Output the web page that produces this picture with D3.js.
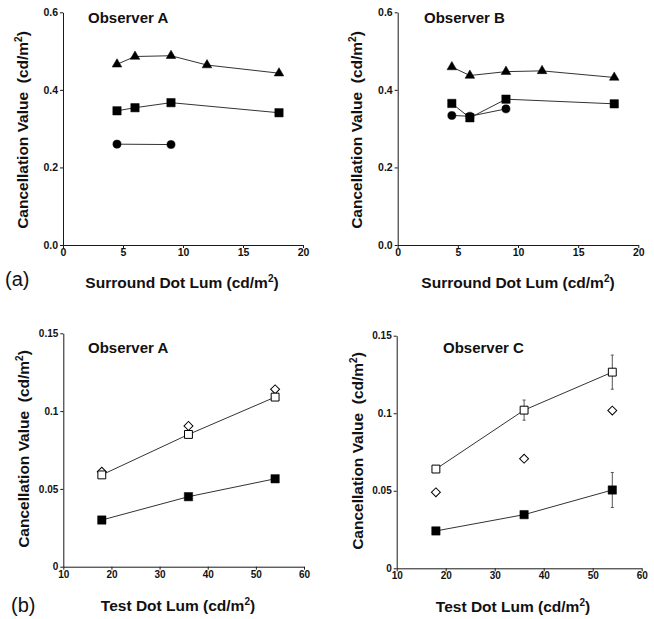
<!DOCTYPE html>
<html><head><meta charset="utf-8">
<script src="https://cdn.jsdelivr.net/npm/d3@7"></script>
<style>body{margin:0;background:#fff}svg{display:block}text{font-family:"Liberation Sans",Arial,sans-serif}</style>
</head><body>
<script>
// ---- data ----
const surroundLum = [4.5, 6, 9, 12, 18];
const surroundLumSq = [4.5, 6, 9, 18];
const A_triangles = [0.466, 0.486, 0.488, 0.464, 0.443];
const A_squares = [0.346, 0.354, 0.367, 0.341];
const A_circleX = [4.5, 9];
const A_circles = [0.260, 0.259];
const B_triangles = [0.459, 0.437, 0.447, 0.449, 0.432];
const B_squares = [0.365, 0.328, 0.376, 0.364];
const B_circleX = [4.5, 6, 9];
const B_circles = [0.334, 0.332, 0.351];

const testLum = [18, 36, 54];
const A2_open = [0.059, 0.085, 0.109];
const A2_diamond = [0.061, 0.0905, 0.114];
const A2_filled = [0.030, 0.045, 0.0565];
const C_open = [0.064, 0.102, 0.1265];
const C_openErr = [0, 0.0065, 0.011];
const C_diamond = [0.049, 0.0707, 0.1017];
const C_filled = [0.0241, 0.0346, 0.0505];
const C_filledErr = [0, 0, 0.0113];

const topXTicks = [0, 5, 10, 15, 20];
const topYTicks = [0, 0.2, 0.4, 0.6];
const botXTicks = [10, 20, 30, 40, 50, 60];
const botYTicks = [0, 0.05, 0.1, 0.15];

const W = 654, H = 619;
const svg = d3.select("body").append("svg").attr("width", W).attr("height", H);
svg.append("rect").attr("width", W).attr("height", H).attr("fill", "#fff");

const zip = (xs, ys, es) => xs.map((x, i) => ({x, y: ys[i], e: es ? es[i] : 0}));

function panel(cfg) {
  const g = svg.append("g");
  const x = d3.scaleLinear().domain(cfg.xDomain).range(cfg.xRange);
  const y = d3.scaleLinear().domain(cfg.yDomain).range(cfg.yRange);
  const xa = d3.axisBottom(x).tickValues(cfg.xTicks).tickSize(3).tickSizeOuter(0).tickPadding(1);
  const ya = d3.axisLeft(y).tickValues(cfg.yTicks).tickSize(3).tickSizeOuter(0).tickPadding(2).tickFormat(cfg.yFmt);
  const gx = g.append("g").attr("transform", `translate(0,${cfg.yRange[0]})`).call(xa);
  const gy = g.append("g").attr("transform", `translate(${cfg.xRange[0]},0)`).call(ya);
  [gx, gy].forEach(a => {
    a.attr("font-size", cfg.tickFont);
    a.selectAll("path,line").attr("stroke", "#1a1a1a").attr("stroke-width", 1);
    a.selectAll("text").attr("font-size", cfg.tickFont).attr("font-weight", "bold").attr("fill", "#111")
      .style("font-family", '"Liberation Sans", Arial, sans-serif');
  });
  const line = d3.line().x(d => x(d.x)).y(d => y(d.y));
  cfg.series.filter(s => s.line).forEach(s => {
    g.append("path").datum(s.data).attr("d", line).attr("fill", "none")
      .attr("stroke", "#333").attr("stroke-width", 1);
  });
  cfg.series.forEach(s => {
    s.data.filter(d => d.e > 0).forEach(d => {
      const eb = g.append("g").attr("stroke", "#555").attr("stroke-width", 1);
      eb.append("line").attr("x1", x(d.x)).attr("x2", x(d.x)).attr("y1", y(d.y - d.e)).attr("y2", y(d.y + d.e));
      [d.y - d.e, d.y + d.e].forEach(v => eb.append("line").attr("x1", x(d.x) - 1.5).attr("x2", x(d.x) + 1.5).attr("y1", y(v)).attr("y2", y(v)));
    });
  });
  cfg.series.forEach(s => {
    const sym = d3.symbol().type(s.type).size(s.size);
    g.selectAll(null).data(s.data).join("path")
      .attr("d", sym)
      .attr("transform", d => `translate(${x(d.x)},${y(d.y)})${s.rot ? " rotate(45)" : ""}`)
      .attr("fill", s.open ? "#fff" : "#000")
      .attr("stroke", "#000").attr("stroke-width", s.open ? 1 : 0.5);
  });
  g.append("text").attr("x", cfg.obs[1]).attr("y", cfg.obs[2]).attr("font-size", 15).attr("font-weight", "bold")
    .attr("fill", "#111").text(cfg.obs[0]);
  const yt = g.append("text").attr("transform", `translate(${cfg.yTitlePos[0]},${cfg.yTitlePos[1]}) rotate(-90)`)
    .attr("text-anchor", "middle").attr("font-size", 15.5).attr("font-weight", "bold").attr("fill", "#111");
  yt.append("tspan").text("Cancellation Value\u00a0\u00a0(cd/m");
  yt.append("tspan").attr("font-size", 10).attr("dy", -6).text("2");
  yt.append("tspan").attr("dy", 6).text(")");
  const xt = g.append("text").attr("x", cfg.xTitlePos[0]).attr("y", cfg.xTitlePos[1])
    .attr("text-anchor", "middle").attr("font-size", 15.5).attr("font-weight", "bold").attr("fill", "#111");
  xt.append("tspan").text(cfg.xTitle + " (cd/m");
  xt.append("tspan").attr("font-size", 10).attr("dy", -6).text("2");
  xt.append("tspan").attr("dy", 6).text(")");
}

const TRI = {type: d3.symbolTriangle, size: 40};
const SQ = {type: d3.symbolSquare, size: 70};
const CIRC = {type: d3.symbolCircle, size: 52};
const DIAM = {type: d3.symbolSquare, size: 40, rot: true};

panel({
  xDomain: [0, 20], xRange: [63, 303], yDomain: [0, 0.6], yRange: [245, 12.3],
  xTicks: topXTicks, yTicks: topYTicks, yFmt: d3.format(".1f"), tickFont: 10.5,
  obs: ["Observer A", 88, 23], yTitlePos: [28, 130], xTitlePos: [182, 288], xTitle: "Surround Dot Lum",
  series: [
    {...TRI, data: zip(surroundLum, A_triangles), line: true},
    {...SQ, data: zip(surroundLumSq, A_squares), line: true},
    {...CIRC, data: zip(A_circleX, A_circles), line: true}
  ]
});
panel({
  xDomain: [0, 20], xRange: [397.7, 638.3], yDomain: [0, 0.6], yRange: [245, 12.3],
  xTicks: topXTicks, yTicks: topYTicks, yFmt: d3.format(".1f"), tickFont: 10.5,
  obs: ["Observer B", 424, 23], yTitlePos: [362, 130], xTitlePos: [518, 288], xTitle: "Surround Dot Lum",
  series: [
    {...TRI, data: zip(surroundLum, B_triangles), line: true},
    {...CIRC, data: zip(B_circleX, B_circles), line: true},
    {...SQ, data: zip(surroundLumSq, B_squares), line: true}
  ]
});
panel({
  xDomain: [10, 60], xRange: [63.3, 304], yDomain: [0, 0.15], yRange: [566.7, 333.3],
  xTicks: botXTicks, yTicks: botYTicks, yFmt: d3.format(""), tickFont: 10,
  obs: ["Observer A", 88, 353], yTitlePos: [29, 449], xTitlePos: [178, 611], xTitle: "Test Dot Lum",
  series: [
    {...DIAM, open: true, data: zip(testLum, A2_diamond), line: false},
    {...SQ, size: 62, open: true, data: zip(testLum, A2_open), line: true},
    {...SQ, data: zip(testLum, A2_filled), line: true}
  ]
});
panel({
  xDomain: [10, 60], xRange: [396.7, 641.7], yDomain: [0, 0.15], yRange: [568.3, 335.7],
  xTicks: botXTicks, yTicks: botYTicks, yFmt: d3.format(""), tickFont: 10,
  obs: ["Observer C", 443, 353], yTitlePos: [363, 451], xTitlePos: [513, 612], xTitle: "Test Dot Lum",
  series: [
    {...DIAM, open: true, data: zip(testLum, C_diamond), line: false},
    {...SQ, size: 62, open: true, data: zip(testLum, C_open, C_openErr), line: true},
    {...SQ, data: zip(testLum, C_filled, C_filledErr), line: true}
  ]
});

svg.append("text").attr("x", 5).attr("y", 286).attr("font-size", 20).attr("fill", "#111").text("(a)");
svg.append("text").attr("x", 11).attr("y", 612).attr("font-size", 20).attr("fill", "#111").text("(b)");
</script>
</body></html>
